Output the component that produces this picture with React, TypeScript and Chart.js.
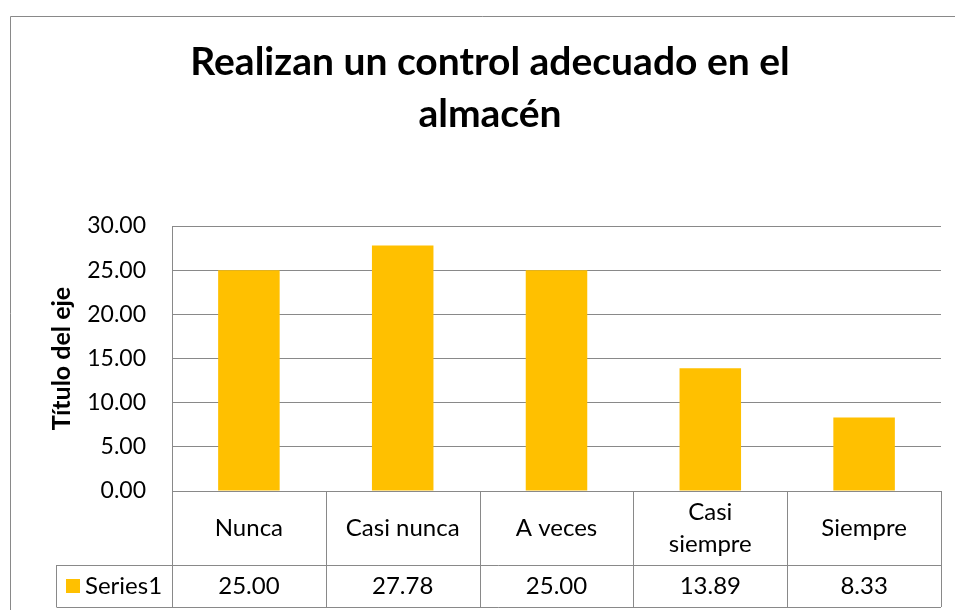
import React, { useEffect, useRef } from "react";
import { Chart, registerables } from "chart.js";

Chart.register(...registerables);

const titleLines = ["Realizan un control adecuado en el", "almacén"];
const categories: string[][] = [["Nunca"], ["Casi nunca"], ["A veces"], ["Casi", "siempre"], ["Siempre"]];
const seriesName = "Series1";
const values = [25.0, 27.78, 25.0, 13.89, 8.33];
const yTicks = { min: 0, max: 30, step: 5 };
const axisTitle = "Título del eje";

const FONT = "Lato, 'Open Sans', sans-serif";
const BAR = "#FFC000";
const LINE = "#898989";

const tablePlugin = {
  id: "excelTable",
  afterDraw(chart: any) {
    const { ctx, chartArea, scales } = chart;
    const x = scales.x;
    const n = categories.length;
    const catW = (chartArea.right - chartArea.left) / n;
    const row1 = chartArea.bottom + 74;
    const row2 = row1 + 42;
    const legendLeft = 56;
    ctx.save();
    ctx.strokeStyle = LINE;
    ctx.lineWidth = 1;
    // outer chart border
    ctx.beginPath();
    ctx.moveTo(10.5, chart.height);
    ctx.lineTo(10.5, 16.5);
    ctx.lineTo(chart.width, 16.5);
    ctx.stroke();
    // table lines
    ctx.beginPath();
    for (let i = 0; i <= n; i++) {
      const px = Math.round(chartArea.left + i * catW) + 0.5;
      ctx.moveTo(px, chartArea.bottom);
      ctx.lineTo(px, row2);
    }
    ctx.moveTo(legendLeft + 0.5, row1 + 0.5);
    ctx.lineTo(chartArea.right, row1 + 0.5);
    ctx.moveTo(legendLeft + 0.5, row2 + 0.5);
    ctx.lineTo(chartArea.right, row2 + 0.5);
    ctx.moveTo(legendLeft + 0.5, row1);
    ctx.lineTo(legendLeft + 0.5, row2);
    ctx.stroke();
    // labels
    ctx.fillStyle = "#000";
    ctx.font = `24px ${FONT}`;
    ctx.textAlign = "center";
    ctx.textBaseline = "middle";
    const mid1 = (chartArea.bottom + row1) / 2;
    const mid2 = (row1 + row2) / 2;
    const lh = 32;
    categories.forEach((lines, i) => {
      const cx = x.getPixelForValue(i);
      lines.forEach((t, j) => {
        ctx.fillText(t, cx, mid1 + (j - (lines.length - 1) / 2) * lh);
      });
      ctx.fillText(values[i].toFixed(2), cx, mid2);
    });
    // legend key
    ctx.fillStyle = BAR;
    ctx.fillRect(66, Math.round(mid2 - 7), 14, 14);
    ctx.fillStyle = "#000";
    ctx.textAlign = "left";
    ctx.fillText(seriesName, 85, mid2);
    ctx.restore();
  },
};

export default function App() {
  const ref = useRef<HTMLCanvasElement>(null);
  useEffect(() => {
    document.body.style.margin = "0";
    const chart = new Chart(ref.current!, {
      type: "bar",
      data: {
        labels: categories.map((c) => c.join(" ")),
        datasets: [
          {
            label: seriesName,
            data: values,
            backgroundColor: BAR,
            barPercentage: 0.4,
            categoryPercentage: 1,
          },
        ],
      },
      options: {
        responsive: false,
        animation: false,
        layout: { padding: { top: 0, left: 39, right: 14, bottom: 119 } },
        plugins: {
          legend: { display: false },
          tooltip: { enabled: false },
          title: {
            display: true,
            text: titleLines,
            color: "#000",
            font: { family: FONT, size: 39, weight: "bold", lineHeight: 52 / 39 },
            padding: { top: 36.5, bottom: 85.5 },
          },
        },
        scales: {
          x: { display: false },
          y: {
            min: yTicks.min,
            max: yTicks.max,
            ticks: {
              stepSize: yTicks.step,
              color: "#000",
              font: { family: FONT, size: 23 },
              padding: 26,
              callback: (v: any) => Number(v).toFixed(2),
            },
            grid: { color: LINE, drawTicks: false },
            border: { display: true, color: LINE },
            title: {
              display: true,
              text: axisTitle,
              color: "#000",
              font: { family: FONT, size: 25, weight: "bold", lineHeight: 1.2 },
              padding: { top: 8, bottom: 0 },
            },
            afterFit: (scale: any) => {
              scale.width = 133;
            },
          },
        },
      },
      plugins: [tablePlugin],
    });
    return () => chart.destroy();
  }, []);
  return <canvas ref={ref} width={955} height={610} style={{ display: "block" }} />;
}
